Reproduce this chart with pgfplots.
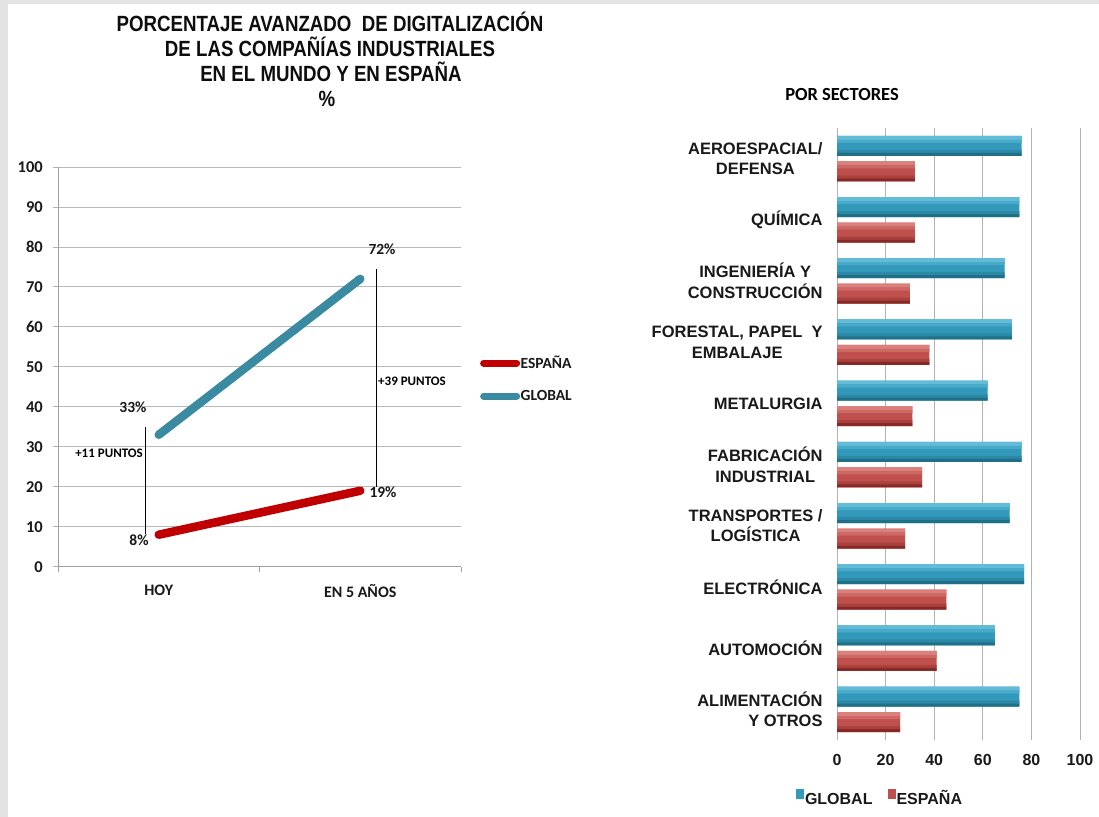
\documentclass[border=0pt]{standalone}
\usepackage{pgfplots}
\usepackage{pgfplotstable}
\pgfplotsset{compat=1.18}
\usepackage{fontspec}
\setmainfont{Liberation Sans}
\newfontfamily\lib{Liberation Sans}
\newfontfamily\libn{Liberation Sans}[FakeStretch=0.85]
\newfontfamily\carl{Carlito}
\definecolor{espred}{HTML}{C00000}
\definecolor{globteal}{HTML}{3A8BA1}
\definecolor{gtop}{HTML}{62BCD7}
\definecolor{gmid}{HTML}{3399BB}
\definecolor{gbot}{HTML}{1F6F86}
\definecolor{rtop}{HTML}{DA817E}
\definecolor{rmid}{HTML}{C0504D}
\definecolor{rbot}{HTML}{872A27}
% sector index (0 = bottom), GLOBAL, ESPANA
\pgfplotstableread{
y glob esp
0 75 26
1 65 41
2 77 45
3 71 28
4 76 35
5 62 31
6 72 38
7 69 30
8 75 32
9 76 32
}\sectors
\begin{document}
\begin{tikzpicture}[x=1bp,y=1bp]
\fill[white] (0,0) rectangle (1099,817);
\fill[gray!22] (0,0) rectangle (8,817);
\fill[gray!22] (0,813) rectangle (1099,817);
% title
\begin{scope}[every node/.style={anchor=base, font=\libn\bfseries\fontsize{22bp}{25bp}\selectfont, inner sep=0pt, text=black!95}]
\node at (330,785) {PORCENTAJE AVANZADO\ \ DE DIGITALIZACIÓN};
\node at (330,760) {DE LAS COMPAÑÍAS INDUSTRIALES};
\node at (331,735) {EN EL MUNDO Y EN ESPAÑA};
\node at (327,710) {\%};
\end{scope}
\node[anchor=base, inner sep=0pt, font=\carl\bfseries\fontsize{18.5bp}{22bp}\selectfont] at (842,716) {POR SECTORES};

% ---------- left line chart ----------
\begin{axis}[
  at={(58bp,250.3bp)}, anchor=south west,
  scale only axis, width=403bp, height=399.7bp,
  xmin=0.5, xmax=2.5, ymin=0, ymax=100,
  axis lines*=left,
  axis line style={draw=gray!75, line width=0.8bp},
  xtick={1,2}, xticklabels={HOY,EN 5 AÑOS},
  minor xtick={0.5,1.5,2.5},
  major x tick style={draw=none},
  minor x tick style={draw=gray!75, line width=0.8bp},
  ytick={0,10,...,100},
  ytick style={draw=gray!60, line width=0.8bp},
  tick align=outside, major tick length=5bp, minor tick length=5bp,
  ymajorgrids, grid style={draw=gray!55, line width=0.8bp},
  ticklabel style={font=\carl\bfseries\fontsize{16.5bp}{19bp}\selectfont, text=black!90},
  yticklabel style={inner sep=0pt, xshift=-10bp},
  xticklabel style={inner sep=0pt, yshift=-13bp, font=\carl\bfseries\fontsize{16bp}{19bp}\selectfont},
  /pgf/number format/assume math mode=true,
  legend image code/.code={\draw[#1, line width=7bp, line cap=round] (0bp,0bp) -- (33bp,0bp);},
  legend style={at={(1.047,0.4696)}, anchor=west, draw=none, fill=none,
    font=\carl\bfseries\fontsize{15.5bp}{18bp}\selectfont, row sep=19bp, inner sep=0pt,
    nodes={inner sep=0.5bp, text=black!90}},
  legend cell align=left,
  clip=false,
]
\addplot[espred, line width=8.5bp, line cap=round] coordinates {(1,8) (2,19)};
\addlegendentry{ESPAÑA}
\addplot[globteal, line width=8.5bp, line cap=round] coordinates {(1,33) (2,72)};
\addlegendentry{GLOBAL}
\addplot[black, line width=0.8bp, forget plot] coordinates {(0.935,34.9) (0.935,8.3)};
\addplot[black, line width=0.8bp, forget plot] coordinates {(2.078,74.4) (2.078,19.9)};
\begin{scope}[every node/.style={font=\carl\bfseries\fontsize{15.5bp}{18bp}\selectfont, inner sep=0pt, text=black!90}]
\node at (axis cs:0.872,39.96) {33\%};
\node at (axis cs:2.108,79.5) {72\%};
\node at (axis cs:0.902,6.7) {8\%};
\node at (axis cs:2.113,18.7) {19\%};
\end{scope}
\node[anchor=east, inner sep=0pt, font=\carl\bfseries\fontsize{13bp}{15bp}\selectfont] at (axis cs:0.922,28.4) {+11 PUNTOS};
\node[anchor=west, inner sep=0pt, font=\carl\bfseries\fontsize{13bp}{15bp}\selectfont] at (axis cs:2.088,46.5) {+39 PUNTOS};
\end{axis}

% ---------- right bar chart ----------
\begin{axis}[
  at={(837bp,77bp)}, anchor=south west,
  scale only axis, width=243bp, height=612bp,
  xmin=0, xmax=100, ymin=-0.5, ymax=9.5,
  xbar, bar width=20bp,
  axis line style={draw=none},
  tick style={draw=none},
  xtick={0,20,...,100},
  ytick={0,...,9},
  yticklabels={{ALIMENTACIÓN\\\hphantom{ALIMENTACIÓN}\llap{Y OTROS}},
    {AUTOMOCIÓN},{ELECTRÓNICA},{TRANSPORTES /\\LOGÍSTICA},
    {FABRICACIÓN\\INDUSTRIAL},{METALURGIA},{FORESTAL, PAPEL\ \ Y\\EMBALAJE},
    {INGENIERÍA Y\\CONSTRUCCIÓN},{QUÍMICA},{AEROESPACIAL/\\DEFENSA}},
  xmajorgrids, grid style={draw=gray!60, line width=1bp},
  ticklabel style={font=\lib\bfseries\fontsize{16bp}{20bp}\selectfont, text=black!90},
  yticklabel style={inner sep=0pt, xshift=-10bp, align=center, font=\lib\bfseries\fontsize{16.5bp}{20.5bp}\selectfont},
  xticklabel style={inner sep=0pt, yshift=-14.5bp},
  /pgf/number format/assume math mode=true,
  legend image code/.code={\fill[#1] (0bp,0bp) rectangle (8bp,10bp);},
  legend columns=2,
  legend style={at={(0.175,-0.0931)}, anchor=center, draw=none, fill=none,
    font=\lib\bfseries\fontsize{16bp}{18bp}\selectfont, inner sep=0pt,
    nodes={inner sep=1bp, text=black!90, text height=11.5bp, text depth=0bp},
    /tikz/every even column/.append style={column sep=14bp}},
  clip=false,
]
% GLOBAL bars (main body + bevel strips)
\addplot[bar shift=12.75bp, draw=none, fill=gmid] table[x=glob,y=y] {\sectors};
\addlegendentry{GLOBAL}
\addplot[forget plot, bar shift=20.75bp, bar width=4bp, draw=none, fill=gtop] table[x=glob,y=y] {\sectors};
\addplot[forget plot, bar shift=17.25bp, bar width=3bp, draw=none, fill=gtop!50!gmid] table[x=glob,y=y] {\sectors};
\addplot[forget plot, bar shift=7.25bp, bar width=3bp, draw=none, fill=gmid!60!gbot] table[x=glob,y=y] {\sectors};
\addplot[forget plot, bar shift=4.25bp, bar width=3bp, draw=none, fill=gbot] table[x=glob,y=y] {\sectors};
% ESPANA bars
\addplot[bar shift=-12.75bp, draw=none, fill=rmid] table[x=esp,y=y] {\sectors};
\addlegendentry{ESPAÑA}
\addplot[forget plot, bar shift=-4.75bp, bar width=4bp, draw=none, fill=rtop] table[x=esp,y=y] {\sectors};
\addplot[forget plot, bar shift=-8.25bp, bar width=3bp, draw=none, fill=rtop!50!rmid] table[x=esp,y=y] {\sectors};
\addplot[forget plot, bar shift=-18.25bp, bar width=3bp, draw=none, fill=rmid!60!rbot] table[x=esp,y=y] {\sectors};
\addplot[forget plot, bar shift=-21.25bp, bar width=3bp, draw=none, fill=rbot] table[x=esp,y=y] {\sectors};
\end{axis}
\pgfresetboundingbox
\path[use as bounding box] (0,0) rectangle (1099,817);
\end{tikzpicture}
\end{document}
